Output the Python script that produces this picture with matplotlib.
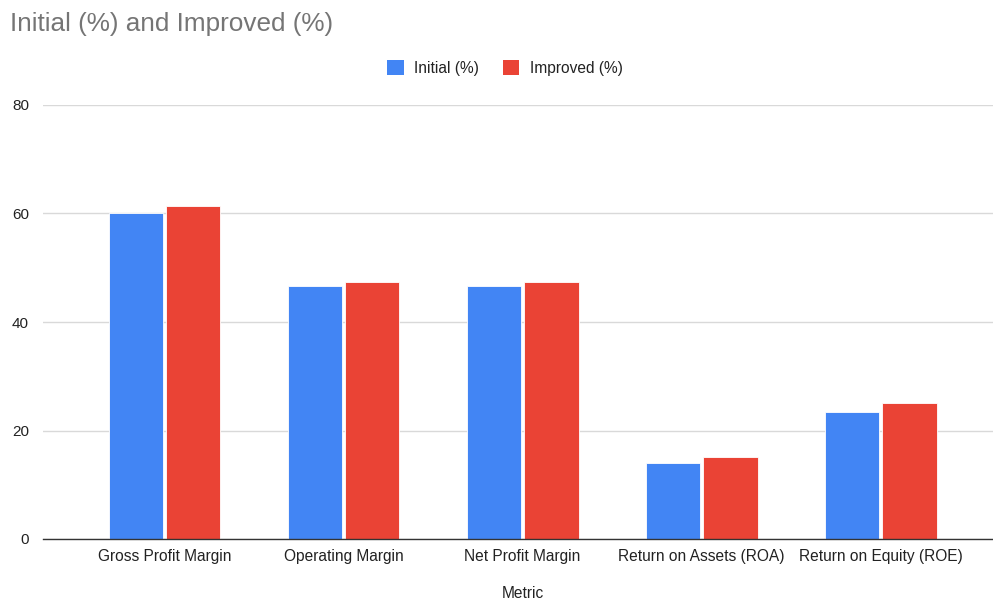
import matplotlib
matplotlib.use("Agg")
import matplotlib.pyplot as plt
import numpy as np
from matplotlib.patches import Patch

plt.rcParams['font.family'] = ['Liberation Sans', 'DejaVu Sans']

categories = ["Gross Profit Margin", "Operating Margin", "Net Profit Margin",
              "Return on Assets (ROA)", "Return on Equity (ROE)"]
initial = [60.0, 46.67, 46.67, 14.0, 23.33]
improved = [61.3, 47.4, 47.4, 15.2, 25.0]
yticks = [0, 20, 40, 60, 80]
title = "Initial (%) and Improved (%)"
series_names = ["Initial (%)", "Improved (%)"]
x_label = "Metric"

blue = "#4285F4"
red = "#EA4335"

fig = plt.figure(figsize=(9.93, 6.01), dpi=100)
ax = fig.add_axes([43/993, (601-539)/601, 1 - 43/993, (539-105)/601])

x = np.arange(len(categories))
w = 0.305
off = 0.16
ax.bar(x - off, initial, w, color=blue, edgecolor="white", linewidth=0.6, zorder=3)
ax.bar(x + off, improved, w, color=red, edgecolor="white", linewidth=0.6, zorder=3)

ax.set_xlim(-0.679, 4.628)
ax.set_ylim(0, 80)
ax.set_yticks(yticks)
ax.set_yticklabels([str(t) for t in yticks], fontsize=11, color="#222222")
ax.set_xticks(x)
ax.set_xticklabels(categories, fontsize=11.2, color="#222222")
ax.tick_params(axis="both", length=0)
ax.tick_params(axis="x", pad=7)
ax.tick_params(axis="y", pad=10)

ax.grid(axis="y", color="#d9d9d9", linewidth=1, zorder=0)
for s in ["top", "right", "left"]:
    ax.spines[s].set_visible(False)
ax.spines["bottom"].set_color("#333333")
ax.spines["bottom"].set_linewidth(1)
ax.spines["bottom"].set_zorder(4)

fig.text(10/993, 1 - 24/601, title, fontsize=18.8, color="#757575", va="center", ha="left")

handles = [Patch(facecolor=blue, edgecolor="none"), Patch(facecolor=red, edgecolor="none")]
leg = fig.legend(handles, series_names, loc="center", bbox_to_anchor=(505/993, 1 - 68/601),
                 ncol=2, frameon=False, fontsize=11.2, handlelength=1.05, handleheight=1.05,
                 handletextpad=0.7, columnspacing=1.5)
for t in leg.get_texts():
    t.set_color("#222222")

fig.text(523/993, 1 - 593/601, x_label, fontsize=11.2, color="#222222", ha="center", va="center")

fig.savefig("out.png", dpi=100)
